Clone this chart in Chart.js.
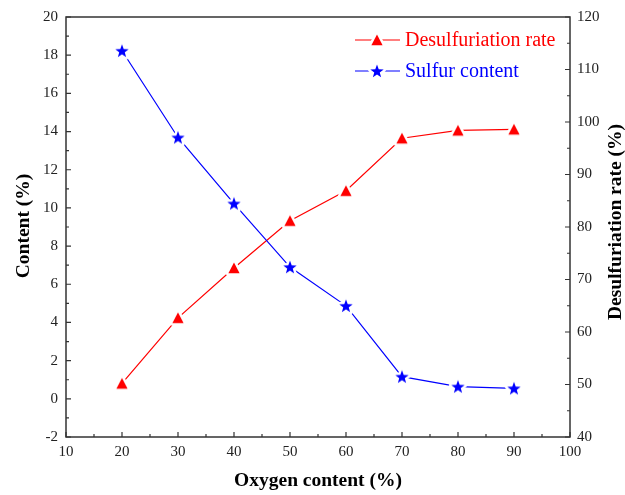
<!DOCTYPE html>
<html>
<head>
<meta charset="utf-8">
<script src="https://cdn.jsdelivr.net/npm/chart.js@4.4.1/dist/chart.umd.min.js"></script>
<style>
  html, body { margin: 0; padding: 0; background: #fff; }
  #wrap { width: 625px; height: 495px; }
</style>
</head>
<body>
<div id="wrap"><canvas id="desulfChart"></canvas></div>
<script>
// Oxygen content (%) on the x axis
const oxygenContent = [20, 30, 40, 50, 60, 70, 80, 90];
// Desulfuriation rate (%) - right axis
const desulfRate = [50.2, 62.7, 72.2, 81.2, 86.9, 96.9, 98.4, 98.6];
// Sulfur content (%) - left axis
const sulfurContent = [18.23, 13.69, 10.23, 6.9, 4.87, 1.16, 0.64, 0.55];

const serif = '"Liberation Serif", "Times New Roman", serif';
const axisColor = '#333';

// Builds a small canvas used as a point marker, with a white halo so
// the connecting line stops short of the marker
function makeMarker(shape, color) {
  const c = document.createElement('canvas');
  c.width = 22;
  c.height = 22;
  const g = c.getContext('2d');
  g.beginPath();
  if (shape === 'star') {
    const R = 7, r = 2.9;
    for (let i = 0; i < 10; i++) {
      const rad = i % 2 === 0 ? R : r;
      const a = -Math.PI / 2 + i * Math.PI / 5;
      g.lineTo(11 + rad * Math.cos(a), 11.6 + rad * Math.sin(a));
    }
  } else {
    g.moveTo(11, 5.6);
    g.lineTo(16.6, 16.2);
    g.lineTo(5.4, 16.2);
  }
  g.closePath();
  g.lineJoin = 'round';
  g.strokeStyle = '#fff';
  g.lineWidth = 5;
  g.stroke();
  g.fillStyle = color;
  g.fill();
  return c;
}

const triMarker = makeMarker('triangle', '#ff0000');
const starMarker = makeMarker('star', '#0000ff');

// Plot frame, inward ticks, axis titles and legend
const framePlugin = {
  id: 'frame',
  afterDraw(chart) {
    const ctx = chart.ctx;
    const a = chart.chartArea;
    const sx = chart.scales.x, sy = chart.scales.y, sy1 = chart.scales.y1;
    ctx.save();
    ctx.strokeStyle = axisColor;
    ctx.lineWidth = 1.5;
    ctx.strokeRect(a.left, a.top, a.right - a.left, a.bottom - a.top);

    ctx.lineWidth = 1.2;
    ctx.beginPath();
    for (let v = 10; v <= 100; v += 5) {
      const px = sx.getPixelForValue(v);
      const len = v % 10 === 0 ? 5 : 3;
      ctx.moveTo(px, a.bottom);
      ctx.lineTo(px, a.bottom - len);
    }
    for (let v = -2; v <= 20; v += 1) {
      const py = sy.getPixelForValue(v);
      const len = v % 2 === 0 ? 5 : 3;
      ctx.moveTo(a.left, py);
      ctx.lineTo(a.left + len, py);
    }
    for (let v = 40; v <= 120; v += 5) {
      const py = sy1.getPixelForValue(v);
      const len = v % 10 === 0 ? 5 : 3;
      ctx.moveTo(a.right, py);
      ctx.lineTo(a.right - len, py);
    }
    ctx.stroke();

    // axis titles
    ctx.fillStyle = '#000';
    ctx.font = 'bold 19.5px ' + serif;
    ctx.textAlign = 'center';
    ctx.textBaseline = 'middle';
    ctx.fillText('Oxygen content (%)', 318, 481);
    ctx.save();
    ctx.translate(24, 226);
    ctx.rotate(-Math.PI / 2);
    ctx.fillText('Content (%)', 0, 0);
    ctx.restore();
    ctx.save();
    ctx.translate(616, 222);
    ctx.rotate(-Math.PI / 2);
    ctx.fillText('Desulfuriation rate (%)', 0, 0);
    ctx.restore();

    // legend
    const items = [
      { text: 'Desulfuriation rate', color: '#ff0000', marker: triMarker, y: 40 },
      { text: 'Sulfur content', color: '#0000ff', marker: starMarker, y: 71 }
    ];
    ctx.font = '20px ' + serif;
    ctx.textAlign = 'left';
    items.forEach((it) => {
      ctx.strokeStyle = it.color;
      ctx.lineWidth = 1.2;
      ctx.beginPath();
      ctx.moveTo(355, it.y);
      ctx.lineTo(400, it.y);
      ctx.stroke();
      ctx.drawImage(it.marker, 377 - 11, it.y - 11);
      ctx.fillStyle = it.color;
      ctx.fillText(it.text, 405, it.y + 1);
    });
    ctx.restore();
  }
};

const tickFont = { family: serif, size: 15 };

new Chart(document.getElementById('desulfChart'), {
  type: 'line',
  data: {
    datasets: [
      {
        label: 'Sulfur content',
        data: oxygenContent.map((x, i) => ({ x: x, y: sulfurContent[i] })),
        borderColor: '#0000ff',
        borderWidth: 1.2,
        pointStyle: starMarker,
        yAxisID: 'y'
      },
      {
        label: 'Desulfuriation rate',
        data: oxygenContent.map((x, i) => ({ x: x, y: desulfRate[i] })),
        borderColor: '#ff0000',
        borderWidth: 1.2,
        pointStyle: triMarker,
        yAxisID: 'y1'
      }
    ]
  },
  options: {
    responsive: true,
    maintainAspectRatio: false,
    animation: false,
    events: [],
    layout: { padding: { top: 17, left: 0, right: 0, bottom: 0 } },
    plugins: { legend: { display: false }, tooltip: { enabled: false } },
    scales: {
      x: {
        type: 'linear',
        min: 10,
        max: 100,
        grid: { display: false, drawTicks: false },
        border: { display: false },
        ticks: { stepSize: 10, padding: 6, color: '#222', font: tickFont },
        afterFit: (s) => { s.height = 58; }
      },
      y: {
        position: 'left',
        min: -2,
        max: 20,
        grid: { display: false, drawTicks: false },
        border: { display: false },
        ticks: { stepSize: 2, padding: 8, color: '#222', font: tickFont },
        afterFit: (s) => { s.width = 66; }
      },
      y1: {
        position: 'right',
        min: 40,
        max: 120,
        grid: { display: false, drawTicks: false },
        border: { display: false },
        ticks: { stepSize: 10, padding: 7, color: '#222', font: tickFont },
        afterFit: (s) => { s.width = 55; }
      }
    }
  },
  plugins: [framePlugin]
});
</script>
</body>
</html>
